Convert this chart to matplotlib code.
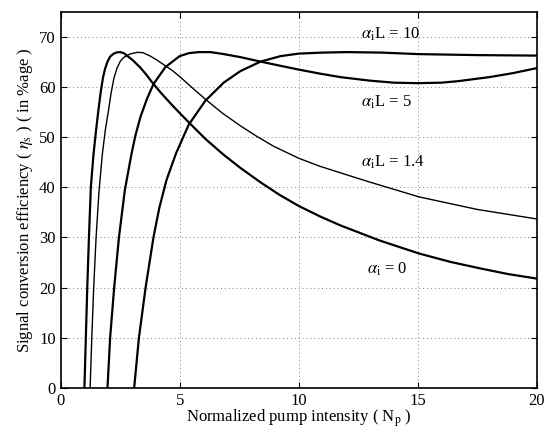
import matplotlib
matplotlib.use("Agg")
import matplotlib.pyplot as plt

plt.rcParams['font.family'] = ['Liberation Serif', 'DejaVu Serif']
plt.rcParams['mathtext.fontset'] = 'stix'

# alpha_i = 0
x0 = [1.00, 1.06, 1.12, 1.19, 1.27, 1.38, 1.48, 1.59, 1.69, 1.78, 1.87, 1.97, 2.08,
      2.23, 2.37, 2.50, 2.65, 2.79, 3.05, 3.35, 3.60, 3.84, 4.19, 4.61, 5.03, 5.38,
      6.10, 6.85, 7.55, 8.40, 9.20, 10.0, 10.9, 11.76, 13.4, 15.06, 16.4, 17.66,
      18.8, 20.0]
y0 = [0, 10, 20, 30, 40, 46.5, 51.0, 55.5, 59.2, 61.9, 63.7, 65.1, 66.1,
      66.7, 66.95, 67.0, 66.8, 66.3, 65.3, 63.9, 62.5, 61.0, 59.0, 56.8, 54.7, 53.0,
      49.6, 46.5, 43.9, 41.0, 38.5, 36.3, 34.2, 32.4, 29.4, 26.8, 25.1, 23.8,
      22.7, 21.8]

# alpha_i L = 1.4
x1 = [1.24, 1.31, 1.39, 1.49, 1.61, 1.75, 1.88, 2.01, 2.12, 2.24, 2.37, 2.50, 2.64,
      2.90, 3.21, 3.45, 3.77, 4.05, 4.33, 4.70, 5.03, 5.50, 6.08, 6.80, 7.55, 8.20,
      8.95, 10.01, 10.9, 11.76, 12.89, 15.06, 17.5, 20.0]
y1 = [0, 10, 20, 30, 39, 46.5, 51.5, 55.3, 58.8, 61.8, 63.8, 65.1, 65.9,
      66.6, 66.95, 66.9, 66.2, 65.4, 64.5, 63.3, 62.0, 60.0, 57.6, 54.8, 52.3, 50.3,
      48.2, 45.8, 44.2, 42.9, 41.2, 38.1, 35.6, 33.7]

# alpha_i L = 5
x5 = [1.97, 2.08, 2.25, 2.45, 2.70, 2.97, 3.14, 3.35, 3.63, 3.90, 4.40, 5.0, 5.40,
      5.80, 6.30, 6.85, 7.55, 8.40, 9.20, 10.01, 10.9, 11.76, 13.0, 14.0, 15.0, 16.0,
      16.7, 18.0, 19.0, 20.0]
y5 = [0, 10, 20, 30, 39.5, 46.5, 50.3, 54.0, 57.7, 60.6, 64.0, 66.2, 66.8,
      67.0, 67.0, 66.6, 66.0, 65.1, 64.3, 63.5, 62.7, 62.0, 61.3, 60.9, 60.8, 60.9,
      61.2, 62.0, 62.8, 63.8]

# alpha_i L = 10
x10 = [3.09, 3.29, 3.57, 3.90, 4.15, 4.45, 4.85, 5.38, 6.08, 6.85, 7.55, 8.40, 9.24,
       10.01, 11.0, 12.0, 13.5, 15.0, 17.5, 20.0]
y10 = [0, 10, 20, 30, 36.0, 41.5, 46.8, 52.5, 57.3, 60.9, 63.2, 65.1, 66.2,
       66.7, 66.9, 67.0, 66.9, 66.6, 66.4, 66.3]

fig = plt.figure(figsize=(5.46, 4.29), dpi=100)
ax = fig.add_axes([0.111, 0.096, 0.872, 0.876])

ax.plot(x0, y0, color='black', lw=1.6)
ax.plot(x1, y1, color='black', lw=1.0)
ax.plot(x5, y5, color='black', lw=1.6)
ax.plot(x10, y10, color='black', lw=1.6)

ax.text(12.6, 70.6, r'$\alpha_{\rm i}$L = 10', fontsize=12, va='center')
ax.text(12.6, 56.9, r'$\alpha_{\rm i}$L = 5', fontsize=12, va='center')
ax.text(12.6, 45.0, r'$\alpha_{\rm i}$L = 1.4', fontsize=12, va='center')
ax.text(12.85, 23.7, r'$\alpha_{\rm i}$ = 0', fontsize=12, va='center')

ax.set_xlim(0, 20)
ax.set_ylim(0, 75)
ax.set_xticks([0, 5, 10, 15, 20])
ax.set_yticks([0, 10, 20, 30, 40, 50, 60, 70])
ax.tick_params(direction='in', top=True, right=True, labelsize=12, length=4)
ax.grid(True, linestyle=(0, (1, 3)), color='gray', lw=0.7)
for s in ax.spines.values():
    s.set_linewidth(1.2)

ax.set_xlabel(r'Normalized pump intensity ( N$_{\rm p}$ )', fontsize=12, labelpad=-1)
ax.set_ylabel(r'Signal conversion efficiency ( $\eta_{\rm s}$ ) ( in %age )', fontsize=12, labelpad=3)

fig.savefig('out.png', dpi=100)
